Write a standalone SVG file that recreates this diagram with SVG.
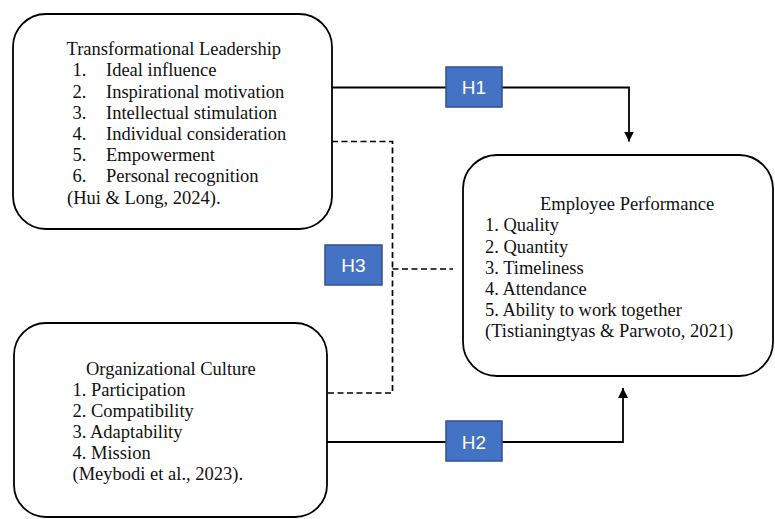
<svg xmlns="http://www.w3.org/2000/svg" width="775" height="519" viewBox="0 0 775 519">
  <style>
    .box { fill: #ffffff; stroke: #000000; stroke-width: 1.8; }
    .txt { font-family: "Liberation Serif", "Times New Roman", serif; font-size: 18.5px; fill: #111111; }
    .hyp rect { fill: #4472C4; stroke: #2F528F; stroke-width: 1.5; }
    .hyp text { font-family: "Liberation Sans", Arial, sans-serif; font-size: 19px; fill: #ffffff; text-anchor: middle; }
    .solid { fill: none; stroke: #000000; stroke-width: 1.8; }
    .dash { fill: none; stroke: #000000; stroke-width: 1.7; stroke-dasharray: 6 3.5; }
  </style>
  <defs>
    <marker id="arrow" markerUnits="userSpaceOnUse" markerWidth="11" markerHeight="11" refX="10" refY="5" orient="auto">
      <path d="M0,0 L10,5 L0,10 z" fill="#000000"/>
    </marker>
  </defs>

  <rect width="775" height="519" fill="#ffffff"/>

  <!-- connectors -->
  <g id="connectors">
    <path class="solid" d="M332 87.5 H446"/>
    <path class="solid" d="M502 87.5 H629 V141.5" marker-end="url(#arrow)"/>
    <path class="solid" d="M327 442 H446"/>
    <path class="solid" d="M502 442 H623 V388" marker-end="url(#arrow)"/>
    <path class="dash" d="M332 141.5 H392.5 V393 H327"/>
    <path class="dash" d="M392.5 269 H453"/>
  </g>

  <!-- Transformational Leadership -->
  <g id="transformational-leadership">
    <rect class="box" x="13" y="14" width="319" height="215" rx="33" ry="33"/>
    <text class="txt">
      <tspan x="66.5" y="55">Transformational Leadership</tspan>
      <tspan x="72.5" y="76">1.</tspan><tspan x="106" y="76">Ideal influence</tspan>
      <tspan x="72.5" y="97.5">2.</tspan><tspan x="106" y="97.5">Inspirational motivation</tspan>
      <tspan x="72.5" y="118.5">3.</tspan><tspan x="106" y="118.5">Intellectual stimulation</tspan>
      <tspan x="72.5" y="139.5">4.</tspan><tspan x="106" y="139.5">Individual consideration</tspan>
      <tspan x="72.5" y="161">5.</tspan><tspan x="106" y="161">Empowerment</tspan>
      <tspan x="72.5" y="182">6.</tspan><tspan x="106" y="182">Personal recognition</tspan>
      <tspan x="67" y="203.5">(Hui &amp; Long, 2024).</tspan>
    </text>
  </g>

  <!-- Employee Performance -->
  <g id="employee-performance">
    <rect class="box" x="463" y="155" width="310" height="221" rx="34" ry="34"/>
    <text class="txt">
      <tspan x="540" y="210">Employee Performance</tspan>
      <tspan x="485" y="231">1. Quality</tspan>
      <tspan x="485" y="252.5">2. Quantity</tspan>
      <tspan x="485" y="273.5">3. Timeliness</tspan>
      <tspan x="485" y="294.5">4. Attendance</tspan>
      <tspan x="485" y="316">5. Ability to work together</tspan>
      <tspan x="485" y="337">(Tistianingtyas &amp; Parwoto, 2021)</tspan>
    </text>
  </g>

  <!-- Organizational Culture -->
  <g id="organizational-culture">
    <rect class="box" x="14" y="323" width="313" height="194" rx="32" ry="32"/>
    <text class="txt">
      <tspan x="86" y="375">Organizational Culture</tspan>
      <tspan x="72.5" y="396">1. Participation</tspan>
      <tspan x="72.5" y="417">2. Compatibility</tspan>
      <tspan x="72.5" y="438">3. Adaptability</tspan>
      <tspan x="72.5" y="459">4. Mission</tspan>
      <tspan x="72.5" y="479.5">(Meybodi et al., 2023).</tspan>
    </text>
  </g>

  <!-- hypothesis labels -->
  <g id="h1" class="hyp">
    <rect x="446" y="67" width="56" height="40"/>
    <text x="474" y="94">H1</text>
  </g>
  <g id="h2" class="hyp">
    <rect x="446" y="421" width="56" height="40"/>
    <text x="474" y="448.5">H2</text>
  </g>
  <g id="h3" class="hyp">
    <rect x="325" y="245" width="57" height="40"/>
    <text x="353.5" y="272">H3</text>
  </g>
</svg>
